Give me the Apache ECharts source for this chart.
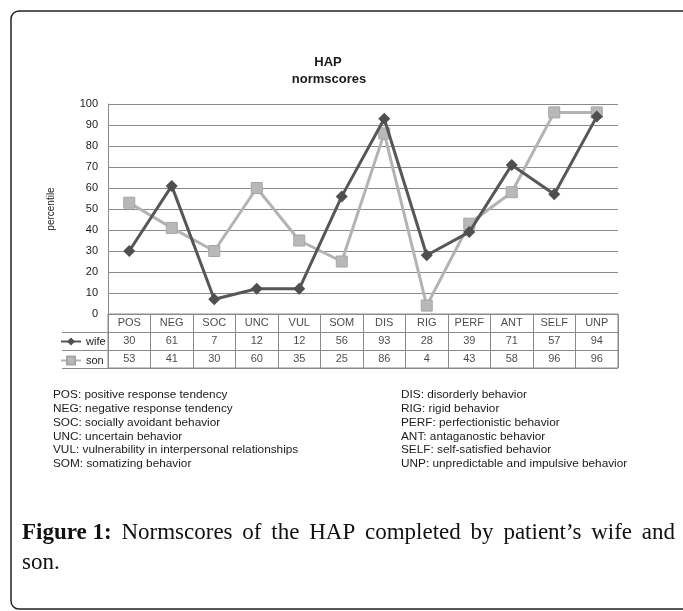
<!DOCTYPE html>
<html>
<head>
<meta charset="utf-8">
<script src="https://cdn.jsdelivr.net/npm/echarts@6/dist/echarts.min.js"></script>
<style>
html,body{margin:0;padding:0;background:#fff;}
#chart{width:683px;height:611px;}
</style>
</head>
<body>
<div id="chart"></div>
<script>
const categories = ['POS','NEG','SOC','UNC','VUL','SOM','DIS','RIG','PERF','ANT','SELF','UNP'];
const wifeValues = [30,61,7,12,12,56,93,28,39,71,57,94];
const sonValues  = [53,41,30,60,35,25,86,4,43,58,96,96];
const yTicks = {min:0, max:100, interval:10};
const leftNotes = [
  'POS: positive response tendency',
  'NEG: negative response tendency',
  'SOC: socially avoidant behavior',
  'UNC: uncertain behavior',
  'VUL: vulnerability in interpersonal relationships',
  'SOM: somatizing behavior'
];
const rightNotes = [
  'DIS: disorderly behavior',
  'RIG: rigid behavior',
  'PERF: perfectionistic behavior',
  'ANT: antaganostic behavior',
  'SELF: self-satisfied behavior',
  'UNP: unpredictable and impulsive behavior'
];
const captionBold = 'Figure 1:';
const captionLine1 = 'Normscores of the HAP completed by patient\u2019s wife and';
const captionLine2 = 'son.';

const SANS = '"Liberation Sans", Arial, Helvetica, sans-serif';
const SERIF = '"Liberation Serif", "Times New Roman", serif';
const GRID_C = '#8a8a8a';
const TXT = '#1a1a1a';
const WIFE_C = '#575757';
const SON_C = '#b3b3b3';
const CAP_SIZE = 23;

// caption: justify first line to the reference width by widening word gaps
const mctx = document.createElement('canvas').getContext('2d');
const capWords = captionLine1.split(' ');
mctx.font = 'bold ' + CAP_SIZE + 'px ' + SERIF;
let wordsW = mctx.measureText(captionBold).width;
mctx.font = CAP_SIZE + 'px ' + SERIF;
capWords.forEach(w => { wordsW += mctx.measureText(w).width; });
const gapCount = capWords.length;
const gapW = Math.max(4, (653 - wordsW) / gapCount);
let capRich = '{b|' + captionBold + '}';
capWords.forEach(w => { capRich += '{s| }{n|' + w + '}'; });
capRich += '\n{n|' + captionLine2 + '}';

const chart = echarts.init(document.getElementById('chart'));

const cellLabel = {show:true, position:'inside', color:TXT, fontSize:11, fontFamily:SANS};

const graphics = [
  {type:'rect', shape:{x:11, y:11, width:700, height:598, r:8}, style:{fill:'none', stroke:'#222', lineWidth:1.5}, silent:true, z:0},
  {type:'text', x:328, y:62, style:{text:'HAP', font:'bold 13px '+SANS, fill:TXT, align:'center', verticalAlign:'middle'}},
  {type:'text', x:329, y:79, style:{text:'normscores', font:'bold 13px '+SANS, fill:TXT, align:'center', verticalAlign:'middle'}},
  {type:'line', shape:{x1:62, y1:332.5, x2:108, y2:332.5}, style:{stroke:GRID_C, lineWidth:1}},
  {type:'line', shape:{x1:62, y1:350.5, x2:108, y2:350.5}, style:{stroke:GRID_C, lineWidth:1}},
  {type:'line', shape:{x1:62, y1:368.5, x2:108, y2:368.5}, style:{stroke:GRID_C, lineWidth:1}},
  {type:'text', x:53, y:388, style:{text:leftNotes.join('\n'), font:'11.8px '+SANS, lineHeight:13.8, fill:TXT, align:'left', verticalAlign:'top'}},
  {type:'text', x:401, y:388, style:{text:rightNotes.join('\n'), font:'11.8px '+SANS, lineHeight:13.8, fill:TXT, align:'left', verticalAlign:'top'}},
  {type:'text', x:22, y:518, style:{
    text:capRich,
    align:'left', verticalAlign:'top',
    rich:{
      b:{fontFamily:SERIF, fontWeight:'bold', fontSize:CAP_SIZE, fill:'#111', lineHeight:30},
      n:{fontFamily:SERIF, fontSize:CAP_SIZE, fill:'#111', lineHeight:30},
      s:{fontFamily:SERIF, fontSize:CAP_SIZE, width:gapW, lineHeight:30}
    }
  }}
];

const option = {
  animation:false,
  backgroundColor:'#fff',
  legend:{
    orient:'vertical', left:60, top:336, padding:0, itemWidth:20, itemHeight:10, itemGap:8,
    textStyle:{fontSize:11, color:TXT, fontFamily:SANS},
    data:['wife','son']
  },
  grid:[
    {left:108, top:104, width:510, height:210, containLabel:false},
    {left:108, top:314, width:510, height:54, show:true, borderColor:GRID_C, borderWidth:1, backgroundColor:'transparent'}
  ],
  xAxis:[
    {type:'category', gridIndex:0, data:categories, boundaryGap:true,
     axisLine:{show:true, lineStyle:{color:GRID_C}}, axisTick:{show:false}, axisLabel:{show:false}, splitLine:{show:false}},
    {type:'category', gridIndex:1, data:categories, boundaryGap:true,
     axisLine:{show:false}, axisTick:{show:false}, axisLabel:{show:false},
     splitLine:{show:true, interval:0, lineStyle:{color:GRID_C, width:1}}}
  ],
  yAxis:[
    {type:'value', gridIndex:0, min:yTicks.min, max:yTicks.max, interval:yTicks.interval,
     name:'percentile', nameLocation:'middle', nameGap:52, nameRotate:90,
     nameTextStyle:{fontSize:10, color:TXT, fontFamily:SANS},
     axisLine:{show:true, lineStyle:{color:GRID_C}}, axisTick:{show:false},
     axisLabel:{fontSize:11, color:TXT, fontFamily:SANS, margin:10},
     splitLine:{show:true, lineStyle:{color:GRID_C, width:1}}},
    {type:'category', gridIndex:1, data:['header','wife','son'], inverse:true, boundaryGap:true,
     axisLine:{show:false}, axisTick:{show:false}, axisLabel:{show:false},
     splitLine:{show:true, interval:0, lineStyle:{color:GRID_C, width:1}}}
  ],
  series:[
    {name:'wife', type:'line', xAxisIndex:0, yAxisIndex:0, data:wifeValues,
     symbol:'diamond', symbolSize:12, lineStyle:{color:WIFE_C, width:3}, itemStyle:{color:'#4f4f4f'}, z:3},
    {name:'son', type:'line', xAxisIndex:0, yAxisIndex:0, data:sonValues,
     symbol:'rect', symbolSize:11, lineStyle:{color:SON_C, width:3}, itemStyle:{color:'#b8b8b8', borderColor:'#a5a5a5', borderWidth:1}, z:2},
    {name:'tableHeader', type:'scatter', xAxisIndex:1, yAxisIndex:1, symbolSize:1, itemStyle:{color:'rgba(0,0,0,0)'},
     data:categories.map((c,i)=>[i,0]), label:Object.assign({formatter:p=>categories[p.dataIndex]}, cellLabel), silent:true},
    {name:'tableWife', type:'scatter', xAxisIndex:1, yAxisIndex:1, symbolSize:1, itemStyle:{color:'rgba(0,0,0,0)'},
     data:wifeValues.map((v,i)=>[i,1,v]), label:Object.assign({formatter:p=>String(wifeValues[p.dataIndex])}, cellLabel), silent:true},
    {name:'tableSon', type:'scatter', xAxisIndex:1, yAxisIndex:1, symbolSize:1, itemStyle:{color:'rgba(0,0,0,0)'},
     data:sonValues.map((v,i)=>[i,2,v]), label:Object.assign({formatter:p=>String(sonValues[p.dataIndex])}, cellLabel), silent:true}
  ],
  graphic:graphics
};
chart.setOption(option);
</script>
</body>
</html>
